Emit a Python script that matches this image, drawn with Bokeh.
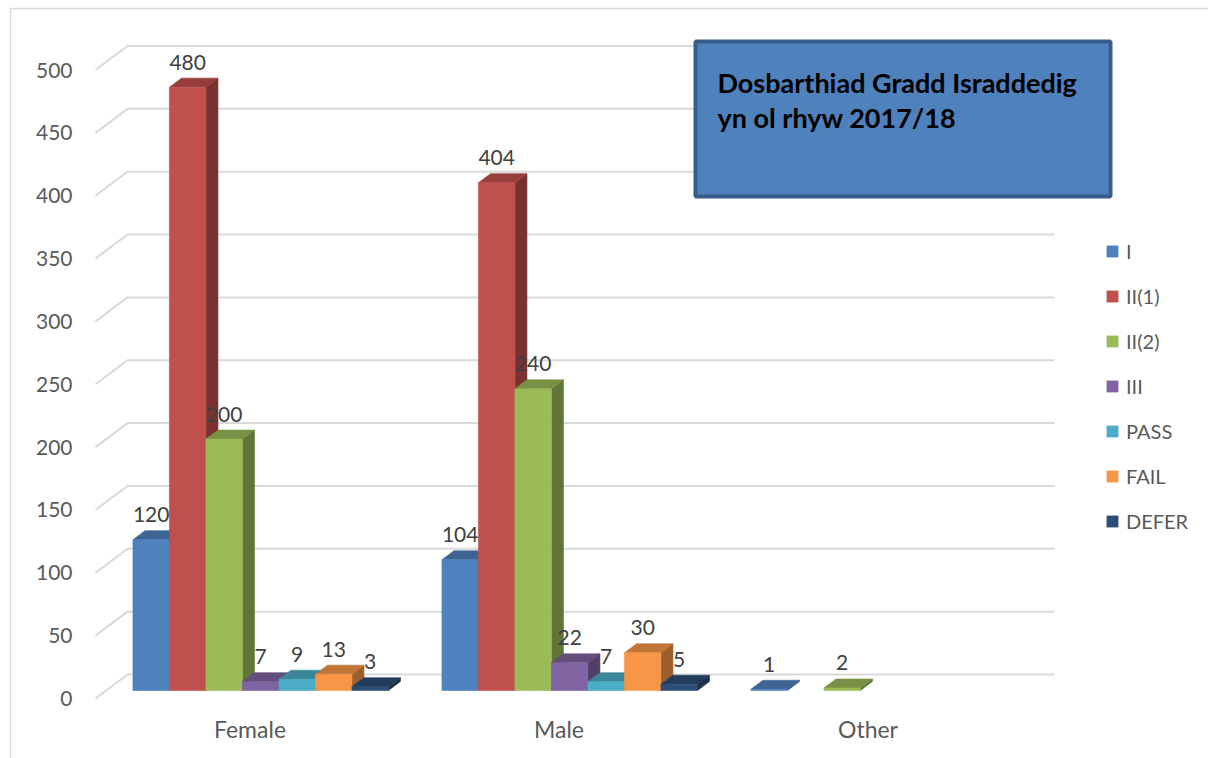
from bokeh.plotting import figure
from bokeh.models import Range1d, ColumnDataSource, Legend, LegendItem
from bokeh.core.properties import value
from bokeh.embed import file_html
from bokeh.resources import INLINE

# ---- data -------------------------------------------------------------
categories = ["Female", "Male", "Other"]
series_names = ["I", "II(1)", "II(2)", "III", "PASS", "FAIL", "DEFER"]
grade_I = [120, 104, 1]
grade_II1 = [480, 404, None]
grade_II2 = [200, 240, 2]
grade_III = [7, 22, None]
grade_pass = [9, 7, None]
grade_fail = [13, 30, None]
grade_defer = [3, 5, None]
y_ticks = [0, 50, 100, 150, 200, 250, 300, 350, 400, 450, 500]
title_lines = ["Dosbarthiad Gradd Israddedig", "yn ol rhyw 2017/18"]

series_values = [grade_I, grade_II1, grade_II2, grade_III,
                 grade_pass, grade_fail, grade_defer]
colors = ["#4F81BD", "#C0504D", "#9BBB59", "#8064A2",
          "#4BACC6", "#F79646", "#2C4D75"]

# ---- layout: one data unit per category, values on y ------------------
W, H = 1208, 758
PX_CAT = 309.0      # pixels per category slot
PX_VAL = 1.257      # pixels per value unit
X0_PX = 249.5       # first category centre on the front plane
Y0_PX = 698.0       # value 0 on the front plane (from the top)


def px_x(px):
    return (px - X0_PX) / PX_CAT


def px_y(py):
    return (Y0_PX - py) / PX_VAL


def dx(px):
    return px / PX_CAT


def dy(px):
    return px / PX_VAL


WALL_DX, WALL_DY = dx(32), dy(24)       # back wall offset
PLANE_DX, PLANE_DY = dx(10.7), dy(8)    # bar row offset
DEPTH_DX, DEPTH_DY = dx(12), dy(9)      # bar depth
BAR_W = dx(36.5)
GROUP_W = BAR_W * len(series_names)


def shade(hex_color, k):
    r, g, b = (int(hex_color[i:i + 2], 16) for i in (1, 3, 5))
    return "#%02x%02x%02x" % (int(r * k), int(g * k), int(b * k))


p = figure(width=W, height=H, output_backend="svg", toolbar_location=None,
           x_axis_location=None, y_axis_location=None, min_border=0,
           x_range=Range1d(px_x(0), px_x(W)), y_range=Range1d(px_y(H), px_y(0)),
           outline_line_color=None, background_fill_color="white",
           border_fill_color="white")
p.xgrid.visible = False
p.ygrid.visible = False

FONT = value("Lato")

# chart area border
p.quad(left=[px_x(10)], right=[px_x(W + 30)], top=[px_y(8)], bottom=[px_y(H + 30)],
       fill_color=None, line_color="#D9D9D9", line_width=1.5)

# gridlines on the back wall, with the short diagonal to the front plane
x_left, x_right = -0.5, len(categories) - 0.5
grid_xs = [[x_left, x_left + WALL_DX, x_right + WALL_DX] for _ in y_ticks]
grid_ys = [[t, t + WALL_DY, t + WALL_DY] for t in y_ticks]
p.multi_line(grid_xs, grid_ys, line_color="#D9D9D9", line_width=2)

# y tick labels
p.text(x=[px_x(72)] * len(y_ticks), y=y_ticks, text=[str(t) for t in y_ticks],
       text_font=FONT, text_font_size="21px", text_color="#595959",
       text_align="right", text_baseline="middle")

# category labels
p.text(x=list(range(len(categories))), y=[px_y(728)] * len(categories),
       text=categories, text_font=FONT, text_font_size="23px",
       text_color="#595959", text_align="center", text_baseline="middle")

# 3D columns, drawn series by series from left to right
legend_items = []
label_x, label_y, label_t = [], [], []
for s, (name, vals, col) in enumerate(zip(series_names, series_values, colors)):
    front = dict(left=[], right=[], bottom=[], top=[])
    side_xs, side_ys, top_xs, top_ys = [], [], [], []
    for c, v in enumerate(vals):
        if v is None:
            continue
        left = c - GROUP_W / 2 + s * BAR_W + PLANE_DX
        right = left + BAR_W
        bottom = PLANE_DY
        top = PLANE_DY + v
        front["left"].append(left)
        front["right"].append(right)
        front["bottom"].append(bottom)
        front["top"].append(top)
        side_xs.append([right, right + DEPTH_DX, right + DEPTH_DX, right])
        side_ys.append([bottom, bottom + DEPTH_DY, top + DEPTH_DY, top])
        top_xs.append([left, left + DEPTH_DX, right + DEPTH_DX, right])
        top_ys.append([top, top + DEPTH_DY, top + DEPTH_DY, top])
        label_x.append((left + right) / 2)
        label_y.append(top + dy(25))
        label_t.append(str(v))
    side_c = shade(col, 0.63)
    top_c = shade(col, 0.78)
    p.patches(side_xs, side_ys, fill_color=side_c, line_color=side_c, line_width=0.6)
    p.patches(top_xs, top_ys, fill_color=top_c, line_color=top_c, line_width=0.6)
    r = p.quad(source=ColumnDataSource(front), left="left", right="right",
               bottom="bottom", top="top", fill_color=col, line_color=col,
               line_width=0.6)
    legend_items.append(LegendItem(label=name, renderers=[r]))

# value labels
p.text(x=label_x, y=label_y, text=label_t, text_font=FONT, text_font_size="21px",
       text_color="#404040", text_align="center", text_baseline="middle")

# title box
p.quad(left=[px_x(695)], right=[px_x(1110)], top=[px_y(41)], bottom=[px_y(196)],
       fill_color="#4F81BD", line_color="#385D8A", line_width=4)
p.text(x=[px_x(717)] * 2, y=[px_y(82), px_y(117)], text=title_lines,
       text_font=FONT, text_font_size="27px", text_font_style="bold",
       text_color="black", text_align="left", text_baseline="alphabetic")

legend = Legend(items=legend_items, location=(1105, H - 533),
                orientation="vertical", border_line_color=None,
                background_fill_alpha=0, padding=0, margin=0,
                glyph_width=14, glyph_height=14, label_standoff=7,
                label_height=20, spacing=21,
                label_text_font="Lato", label_text_font_size="20px",
                label_text_color="#595959")
p.add_layout(legend)

open("out.html", "w").write(file_html(p, INLINE))
